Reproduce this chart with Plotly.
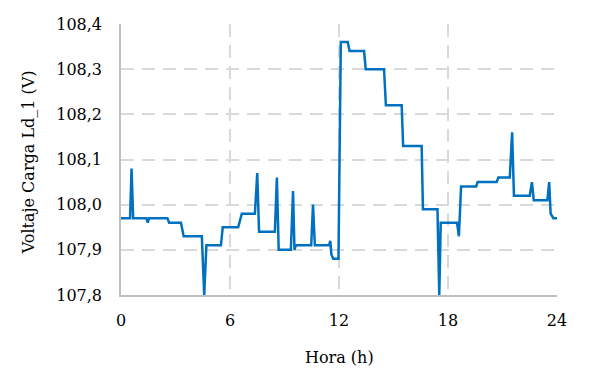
import plotly.graph_objects as go

hours = [0.0, 0.5, 0.58, 0.67, 1.4, 1.47, 1.55, 2.55, 2.65, 3.3, 3.45, 4.45, 4.58, 4.7,
         5.5, 5.6, 6.45, 6.65, 7.37, 7.5, 7.6, 8.47, 8.58, 8.68, 9.35, 9.47, 9.55, 9.62,
         10.47, 10.57, 10.67, 11.45, 11.52, 11.58, 11.68, 11.97, 12.1, 12.48, 12.58,
         13.38, 13.47, 14.48, 14.58, 15.45, 15.53, 16.55, 16.62, 17.42, 17.52, 17.6,
         18.5, 18.6, 18.72, 19.55, 19.63, 20.68, 20.77, 21.4, 21.53, 21.63, 22.5, 22.62,
         22.72, 23.47, 23.57, 23.65, 23.8, 24.0]
voltage = [107.97, 107.97, 108.08, 107.97, 107.97, 107.96, 107.97, 107.97, 107.96, 107.96,
           107.93, 107.93, 107.80, 107.91, 107.91, 107.95, 107.95, 107.98, 107.98, 108.07,
           107.94, 107.94, 108.06, 107.90, 107.90, 108.03, 107.90, 107.91, 107.91, 108.00,
           107.91, 107.91, 107.92, 107.89, 107.88, 107.88, 108.36, 108.36, 108.34, 108.34,
           108.30, 108.30, 108.22, 108.22, 108.13, 108.13, 107.99, 107.99, 107.80, 107.96,
           107.96, 107.93, 108.04, 108.04, 108.05, 108.05, 108.06, 108.06, 108.16, 108.02,
           108.02, 108.05, 108.01, 108.01, 108.05, 107.98, 107.97, 107.97]

x_ticks = [0, 6, 12, 18, 24]
y_ticks = [107.8, 107.9, 108.0, 108.1, 108.2, 108.3, 108.4]

FONT = "DejaVu Serif"

fig = go.Figure()
fig.add_trace(go.Scatter(x=hours, y=voltage, mode="lines",
                         line=dict(color="#0070C0", width=2.5), showlegend=False))

fig.update_layout(
    width=585, height=378,
    margin=dict(l=113, r=36, t=16, b=91),
    paper_bgcolor="white", plot_bgcolor="white",
    separators=",.",
    font=dict(family=FONT, size=16, color="#000000"),
    annotations=[
        dict(text="Hora (h)", xref="paper", yref="paper", x=0.5, y=-0.2288,
             xanchor="center", yanchor="middle", showarrow=False,
             font=dict(family=FONT, size=16)),
        dict(text="Voltaje Carga Ld_1 (V)", xref="paper", yref="paper", x=-0.2133, y=0.49,
             xanchor="center", yanchor="middle", textangle=-90, showarrow=False,
             font=dict(family=FONT, size=16)),
    ],
)
fig.update_xaxes(
    range=[0, 24], tickvals=x_ticks, ticktext=[str(v) for v in x_ticks],
    showline=True, linecolor="#bfbfbf", linewidth=1.5,
    showgrid=True, gridcolor="#d9d9d9", gridwidth=1.5, griddash="13px,8px",
    zeroline=False, ticks="", ticklabelstandoff=10, automargin=False,
)
fig.update_yaxes(
    range=[107.8, 108.4], tickvals=y_ticks, tickformat=".1f",
    showline=True, linecolor="#bfbfbf", linewidth=1.5,
    showgrid=True, gridcolor="#d9d9d9", gridwidth=1.5, griddash="13px,8px",
    zeroline=False, ticks="", ticklabelstandoff=14, automargin=False,
)

fig.write_html("out.html")
